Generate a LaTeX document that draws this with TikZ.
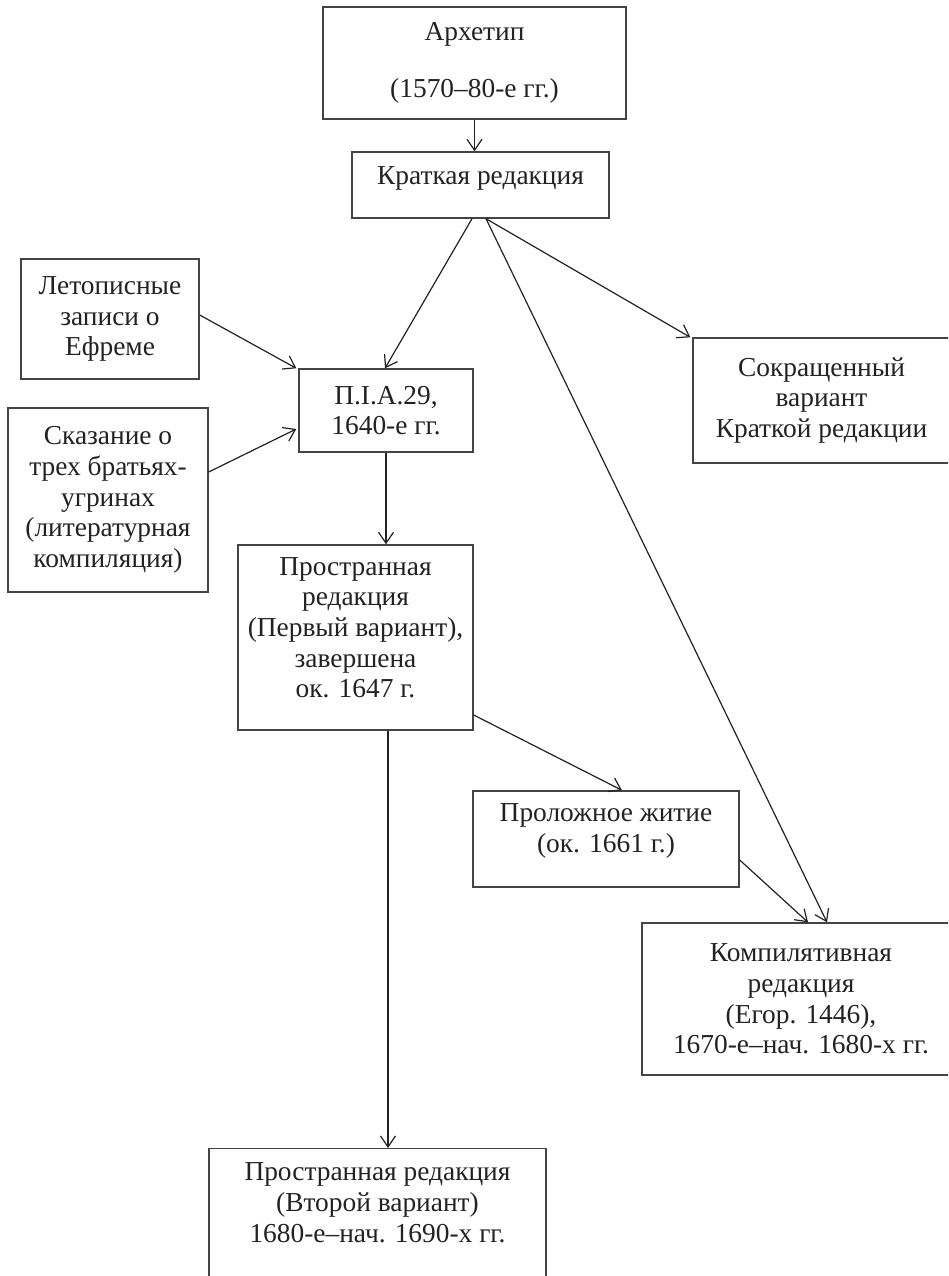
\documentclass[tikz,border=0pt]{standalone}
\usepackage{fontspec}
\setmainfont{Liberation Serif}
\usetikzlibrary{arrows.meta}
\definecolor{edge}{HTML}{444444}
\definecolor{ink}{HTML}{222222}
\begin{document}
\begin{tikzpicture}[x=1pt,y=-1pt,
  box/.style={draw=edge,line width=1.4pt,rectangle,align=center,inner sep=0pt,
    text=ink,font=\fontsize{27.4}{30.7}\selectfont},
  arr/.style={draw=ink,line width=1.2pt,-{Straight Barb[length=11pt,width=15pt,line width=1.2pt]}}]
\useasboundingbox (0,0) rectangle (948,1276);
\clip (0,0) rectangle (948,1276);
\node[box,minimum width=303pt,minimum height=112pt] (arch) at (474.5,63) {Архетип\\[26pt](1570–80-е гг.)};
\node[box,minimum width=257pt,minimum height=66pt,text depth=19pt] (krat) at (480.5,185) {Краткая редакция};
\node[box,minimum width=178pt,minimum height=120pt] (let) at (110,319) {Летописные\\записи о\\Ефреме};
\node[box,minimum width=200pt,minimum height=184pt] (skaz) at (108,500) {Сказание о\\трех братьях-\\угринах\\(литературная\\компиляция)};
\node[box,minimum width=174pt,minimum height=83pt] (pia) at (386,410.5) {П.I.А.29,\\1640-е гг.};
\node[box,minimum width=257pt,minimum height=125pt] (sokr) at (821.5,400.5) {Сокращенный\\вариант\\Краткой редакции};
\node[box,minimum width=235pt,minimum height=185pt,text depth=20pt] (prost) at (355.5,637.5) {Пространная\\редакция\\(Первый вариант),\\завершена\\ок. 1647 г.};
\node[box,minimum width=266pt,minimum height=96pt,text depth=22pt] (prol) at (606,839) {Проложное житие\\(ок. 1661 г.)};
\node[box,minimum width=318pt,minimum height=152pt] (komp) at (801,999) {Компилятивная\\редакция\\(Егор. 1446),\\1670-е–нач. 1680-х гг.};
\node[box,minimum width=337pt,anchor=north,inner ysep=14pt,text depth=120pt] (bot) at (377.5,1148) {Пространная редакция\\(Второй вариант)\\1680-е–нач. 1690-х гг.};
\draw[arr] (arch.south) -- (arch.south |- krat.north);
\draw[arr] ([xshift=-8.5pt]krat.south) -- ([xshift=-1pt]pia.north);
\draw[arr] ([xshift=5.5pt]krat.south) -- ([xshift=-2pt]sokr.north west);
\draw[arr] ([xshift=5.5pt]krat.south) -- ([xshift=26pt]komp.north);
\draw[arr] ([yshift=4pt]let.east) -- ([xshift=-2pt]pia.north west);
\draw[arr] ([yshift=28pt]skaz.east) -- ([xshift=-2pt,yshift=-18.5pt]pia.west);
\draw[arr] (pia.south) -- (pia.south |- prost.north);
\draw[arr] ([yshift=-77.5pt]prost.east) -- ([xshift=16pt]prol.north);
\draw[arr] ([yshift=-21pt]prol.east) -- ([xshift=7pt]komp.north);
\draw[arr] ([xshift=32.5pt]prost.south) -- ([xshift=32.5pt]prost.south |- bot.north);
\end{tikzpicture}
\end{document}
